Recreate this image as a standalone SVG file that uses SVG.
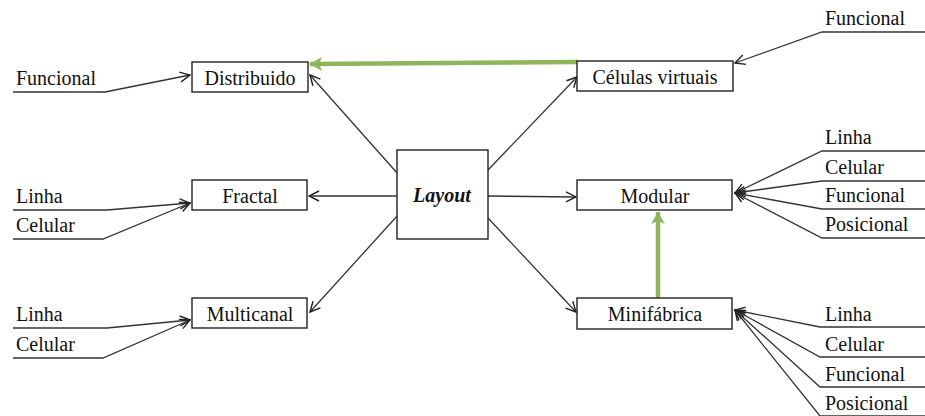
<svg xmlns="http://www.w3.org/2000/svg" width="925" height="416" viewBox="0 0 925 416">
<style>
.box{fill:#fff;stroke:#222;stroke-width:1.4}
.t{font-family:"Liberation Serif",Tinos,"Times New Roman",Times,"Noto Serif","DejaVu Serif",FreeSerif,serif;font-size:20px;fill:#111}
.c{text-anchor:middle}
.ln{fill:none;stroke:#333;stroke-width:1.3}
.ar{marker-end:url(#ah)}
.g{fill:none;stroke:#8fb55a;stroke-width:4.5;marker-end:url(#gh)}
</style>
<defs>
<marker id="ah" viewBox="0 0 12 12" refX="11" refY="6" markerWidth="12" markerHeight="12" markerUnits="userSpaceOnUse" orient="auto">
<path d="M1,1 L11,6 L1,11" fill="none" stroke="#222" stroke-width="1.4"/>
</marker>
<marker id="gh" viewBox="0 0 16 16" refX="14" refY="8" markerWidth="16" markerHeight="16" markerUnits="userSpaceOnUse" orient="auto">
<path d="M2,1 L14,8 L2,15 L5,8 Z" fill="#8fb55a"/>
</marker>
</defs>
<rect width="925" height="416" fill="#fff"/>

<g id="connectors">
<line class="ln ar" x1="398" y1="174" x2="310" y2="75"/>
<line class="ln ar" x1="397" y1="196" x2="309" y2="196"/>
<line class="ln ar" x1="398" y1="215" x2="310" y2="312"/>
<line class="ln ar" x1="488" y1="170" x2="577" y2="77"/>
<line class="ln ar" x1="488" y1="196" x2="576" y2="197"/>
<line class="ln ar" x1="488" y1="218" x2="576" y2="312"/>
<polyline class="ln ar" points="13,92 105,92 190,75"/>
<polyline class="ln ar" points="13,210 107,210 190,203"/>
<polyline class="ln ar" points="13,239 103,239 190,203"/>
<polyline class="ln ar" points="13,328 107,328 190,320"/>
<polyline class="ln ar" points="13,358 103,358 190,320"/>
<polyline class="ln ar" points="925,32 822,32 735,63"/>
<polyline class="ln ar" points="925,151 822,151 735,193"/>
<polyline class="ln ar" points="925,181 822,181 735,193"/>
<polyline class="ln ar" points="925,209 822,209 735,193"/>
<polyline class="ln ar" points="925,238 822,238 735,193"/>
<polyline class="ln ar" points="925,327 820,327 735,310"/>
<polyline class="ln ar" points="925,357 820,357 735,310"/>
<polyline class="ln ar" points="925,387 820,387 735,310"/>
<polyline class="ln ar" points="925,416 820,416 735,310"/>
<line class="g" x1="578" y1="62" x2="310" y2="64"/>
<line class="g" x1="658" y1="298" x2="658" y2="212"/>
</g>

<g id="layout"><rect class="box" x="397" y="150" width="91" height="89"/>
<text class="t c" x="442" y="202" font-weight="bold" font-style="italic" font-size="22">Layout</text></g>
<g id="distribuido"><rect class="box" x="192" y="62" width="116" height="30"/><text class="t c" x="250" y="85">Distribuido</text></g>
<g id="fractal"><rect class="box" x="192" y="180" width="115" height="30"/><text class="t c" x="250" y="203">Fractal</text></g>
<g id="multicanal"><rect class="box" x="192" y="298" width="115" height="30"/><text class="t c" x="250" y="321">Multicanal</text></g>
<g id="celulas"><rect class="box" x="577" y="61" width="156" height="30"/><text class="t c" x="655" y="84">Células virtuais</text></g>
<g id="modular"><rect class="box" x="577" y="180" width="155" height="30"/><text class="t c" x="655" y="203">Modular</text></g>
<g id="minifabrica"><rect class="box" x="577" y="298" width="155" height="31"/><text class="t c" x="655" y="321">Minifábrica</text></g>

<g id="labels-left">
<text class="t" x="16" y="85">Funcional</text>
<text class="t" x="16" y="203">Linha</text>
<text class="t" x="16" y="232">Celular</text>
<text class="t" x="16" y="321">Linha</text>
<text class="t" x="16" y="351">Celular</text>
</g>
<g id="labels-right">
<text class="t" x="825" y="25">Funcional</text>
<text class="t" x="825" y="144">Linha</text>
<text class="t" x="825" y="174">Celular</text>
<text class="t" x="825" y="202">Funcional</text>
<text class="t" x="825" y="231">Posicional</text>
<text class="t" x="825" y="321">Linha</text>
<text class="t" x="825" y="351">Celular</text>
<text class="t" x="825" y="381">Funcional</text>
<text class="t" x="825" y="410">Posicional</text>
</g>
</svg>
